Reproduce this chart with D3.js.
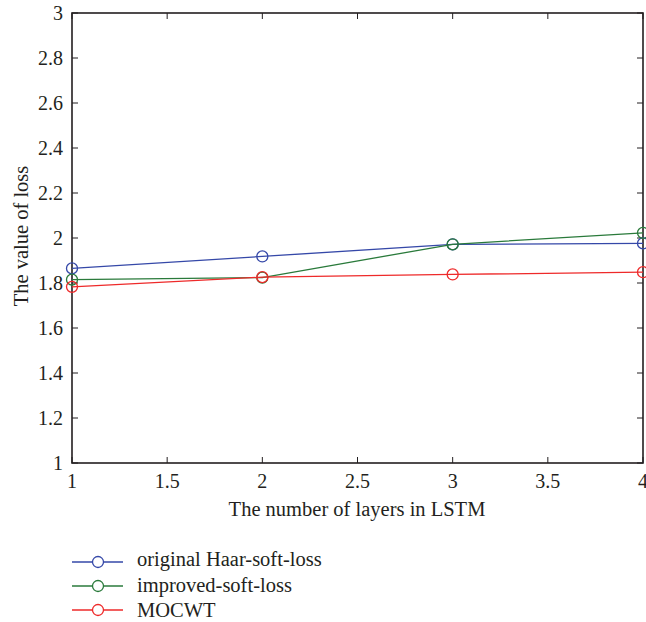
<!DOCTYPE html>
<html>
<head>
<meta charset="utf-8">
<script src="https://cdn.jsdelivr.net/npm/d3@7"></script>
<style>
  body { margin: 0; background: #fff; }
</style>
</head>
<body>
<svg id="chart" width="646" height="622"></svg>
<script>
// layers in LSTM
const layers = [1, 2, 3, 4];
const haarLoss = [1.865, 1.918, 1.972, 1.976];
const improvedLoss = [1.815, 1.824, 1.972, 2.023];
const mocwtLoss = [1.783, 1.826, 1.838, 1.848];

const xTicks = [1, 1.5, 2, 2.5, 3, 3.5, 4];
const yTicks = [1, 1.2, 1.4, 1.6, 1.8, 2, 2.2, 2.4, 2.6, 2.8, 3];

const series = [
  { name: 'original Haar-soft-loss', values: haarLoss, color: '#3548a8' },
  { name: 'improved-soft-loss', values: improvedLoss, color: '#2a7a3b' },
  { name: 'MOCWT', values: mocwtLoss, color: '#ee2a2a' }
];

const FONT = '"Liberation Serif", "Times New Roman", "DejaVu Serif", serif';
const FS_TICK = 20;
const FS_LABEL = 20.5;
const textColor = '#231f20';

const svg = d3.select('#chart')
  .attr('font-family', FONT)
  .attr('fill', textColor);
const plotL = 72, plotR = 643, plotT = 13, plotB = 463;

const x = d3.scaleLinear().domain([1, 4]).range([plotL, plotR]);
const y = d3.scaleLinear().domain([1, 3]).range([plotB, plotT]);

const tickLen = 6;
const axisColor = '#231f20';

// box
svg.append('rect')
  .attr('x', plotL).attr('y', plotT)
  .attr('width', plotR - plotL).attr('height', plotB - plotT)
  .attr('fill', 'none').attr('stroke', axisColor).attr('stroke-width', 1.6);

// inward ticks on all four sides
const tk = svg.append('g').attr('stroke', axisColor).attr('stroke-width', 1);
xTicks.forEach(t => {
  tk.append('line').attr('x1', x(t)).attr('x2', x(t)).attr('y1', plotB).attr('y2', plotB - tickLen);
  tk.append('line').attr('x1', x(t)).attr('x2', x(t)).attr('y1', plotT).attr('y2', plotT + tickLen);
});
yTicks.forEach(t => {
  tk.append('line').attr('x1', plotL).attr('x2', plotL + tickLen).attr('y1', y(t)).attr('y2', y(t));
  tk.append('line').attr('x1', plotR).attr('x2', plotR - tickLen).attr('y1', y(t)).attr('y2', y(t));
});

// tick labels
svg.append('g').selectAll('text').data(xTicks).join('text')
  .attr('x', d => x(d)).attr('y', 488)
  .attr('text-anchor', 'middle').attr('font-size', FS_TICK)
  .text(d => d);

svg.append('g').selectAll('text').data(yTicks).join('text')
  .attr('x', 63).attr('y', d => y(d) + 7)
  .attr('text-anchor', 'end').attr('font-size', FS_TICK)
  .text(d => d);

// axis titles
svg.append('text')
  .attr('x', 357).attr('y', 516)
  .attr('text-anchor', 'middle').attr('font-size', FS_LABEL)
  .text('The number of layers in LSTM');

svg.append('text')
  .attr('transform', 'translate(28, 236) rotate(-90)')
  .attr('text-anchor', 'middle').attr('font-size', FS_LABEL)
  .text('The value of loss');

// lines + markers
const line = d3.line().x((d, i) => x(layers[i])).y(d => y(d));
series.forEach(s => {
  svg.append('path')
    .attr('d', line(s.values))
    .attr('fill', 'none').attr('stroke', s.color).attr('stroke-width', 1.3);
  svg.append('g').selectAll('circle').data(s.values).join('circle')
    .attr('cx', (d, i) => x(layers[i])).attr('cy', d => y(d))
    .attr('r', 5.5).attr('fill', 'none')
    .attr('stroke', s.color).attr('stroke-width', 1.3);
});

// legend
const legend = svg.append('g');
series.forEach((s, i) => {
  const ly = 562 + i * 24;
  legend.append('line').attr('x1', 72).attr('x2', 123).attr('y1', ly).attr('y2', ly)
    .attr('stroke', s.color).attr('stroke-width', 1.3);
  legend.append('circle').attr('cx', 98).attr('cy', ly).attr('r', 5.5)
    .attr('fill', '#fff').attr('stroke', s.color).attr('stroke-width', 1.3);
  legend.append('text').attr('x', 137).attr('y', ly + 4 + i * 1.5)
    .attr('font-size', FS_LABEL).text(s.name);
});
</script>
</body>
</html>
